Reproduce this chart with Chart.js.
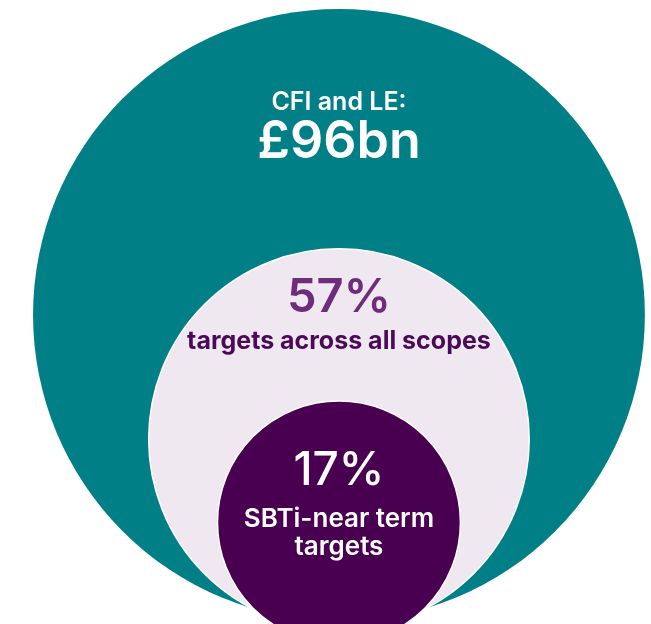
<!DOCTYPE html>
<html>
<head>
<meta charset="utf-8">
<script src="https://cdn.jsdelivr.net/npm/chart.js@4"></script>
<style>
  html, body { margin: 0; padding: 0; background: #fff; }
  #wrap { width: 651px; height: 624px; }
</style>
</head>
<body>
<div id="wrap"><canvas id="circles"></canvas></div>
<script>
// outer -> inner
const groups = ['CFI and LE', 'Targets across all scopes', 'SBTi near-term targets'];
const headlines = ['£96bn', '57%', '17%'];
const captions = [['CFI and LE:'], ['targets across all scopes'], ['SBTi-near term', 'targets']];

// circle layout, outer radius = 100 units, y grows downwards
const circleY = [0, 40.6, 67.8];
const circleR = [100, 62.2, 39.7];
const fills = ['#017f87', '#efe8f0', '#4a0050'];
const edges = ['rgba(0,0,0,0)', '#ffffff', '#ffffff'];

const FONT = 'Inter, "Noto Sans", sans-serif';

// text baselines in the same units
const textLines = [
  { text: captions[0][0], y: -67.0, font: `600 25px ${FONT}`, color: '#ffffff' },
  { text: headlines[0], y: -51.3, font: `600 52px ${FONT}`, color: '#ffffff' },
  { text: headlines[1], y: -1.0, font: `600 47px ${FONT}`, color: '#6e2c7a' },
  { text: captions[1][0], y: 11.3, font: `700 25px ${FONT}`, color: '#4a0a56' },
  { text: headlines[2], y: 55.6, font: `500 46px ${FONT}`, color: '#ffffff' },
  { text: captions[2][0], y: 69.2, font: `600 26px ${FONT}`, color: '#ffffff' },
  { text: captions[2][1], y: 78.6, font: `600 26px ${FONT}`, color: '#ffffff' }
];

const labelPlugin = {
  id: 'circleLabels',
  afterDatasetsDraw(chart) {
    const { ctx, scales: { x, y } } = chart;
    ctx.save();
    ctx.textAlign = 'center';
    ctx.textBaseline = 'alphabetic';
    textLines.forEach(line => {
      ctx.font = line.font;
      ctx.fillStyle = line.color;
      ctx.fillText(line.text, x.getPixelForValue(0), y.getPixelForValue(line.y));
    });
    ctx.restore();
  }
};

const chart = new Chart(document.getElementById('circles'), {
  type: 'bubble',
  data: {
    labels: groups,
    datasets: [{
      data: groups.map((g, i) => ({ x: 0, y: circleY[i], r: 0 })),
      backgroundColor: fills,
      borderColor: edges,
      borderWidth: [0, 1.5, 1.5]
    }]
  },
  options: {
    responsive: true,
    maintainAspectRatio: false,
    animation: false,
    events: [],
    // big bubbles would otherwise shrink the chart area
    layout: { padding: 0, autoPadding: false },
    scales: {
      x: { type: 'linear', display: false, min: -110.8, max: 102.0 },
      y: { type: 'linear', display: false, reverse: true, min: -102.9, max: 101.0 }
    },
    plugins: {
      legend: { display: false },
      tooltip: { enabled: false }
    }
  },
  plugins: [labelPlugin]
});

// bubble r is in pixels: convert the radii from axis units once the scale is laid out
const xs = chart.scales.x;
const unit = xs.getPixelForValue(1) - xs.getPixelForValue(0);
chart.data.datasets[0].data.forEach((p, i) => { p.r = circleR[i] * unit; });
chart.update();
</script>
</body>
</html>
